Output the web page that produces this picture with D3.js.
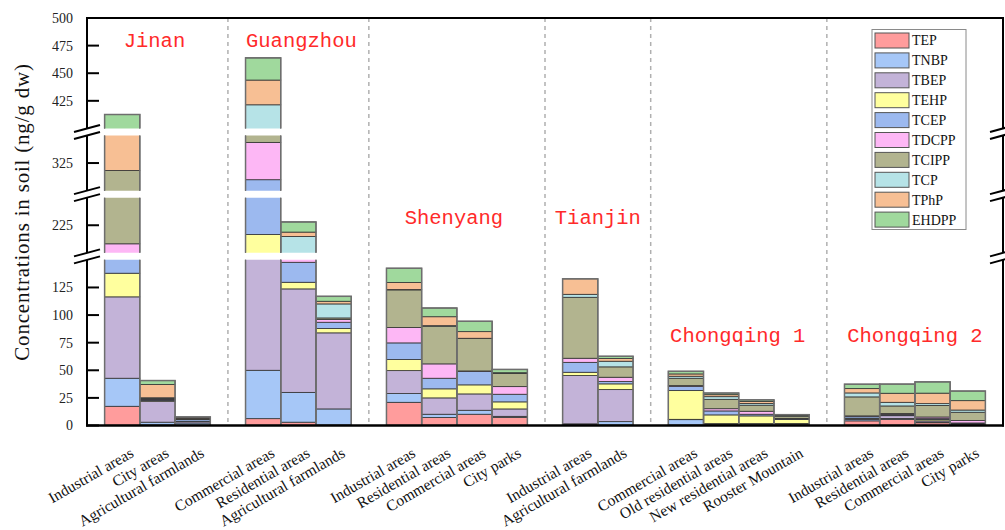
<!DOCTYPE html>
<html>
<head>
<meta charset="utf-8">
<script src="https://cdn.jsdelivr.net/npm/d3@7"></script>
<style>
  html, body { margin: 0; padding: 0; background: #fff; }
  svg { display: block; font-family: "Liberation Serif", "Times New Roman", serif; }
</style>
</head>
<body>
<svg id="chart" width="1005" height="530"></svg>
<script>
// ---- data -------------------------------------------------------------
const cities = ["Jinan", "Guangzhou", "Shenyang", "Tianjin", "Chongqing 1", "Chongqing 2"];
const sites = [
  ["Industrial areas", "City areas", "Agricultural farmlands"],
  ["Commercial areas", "Residential areas", "Agricultural farmlands"],
  ["Industrial areas", "Residential areas", "Commercial areas", "City parks"],
  ["Industrial areas", "Agricultural farmlands"],
  ["Commercial areas", "Old residential areas", "New residential areas", "Rooster Mountain"],
  ["Industrial areas", "Residential areas", "Commercial areas", "City parks"]
];
const compounds = ["TEP", "TNBP", "TBEP", "TEHP", "TCEP", "TDCPP", "TCIPP", "TCP", "TPhP", "EHDPP"];

// concentrations (ng/g dw), one entry per sampling site in the order above
const TEP   = [17.4, 0.4, 0.3, 6.2, 3.0, 0.4, 21.0, 7.2, 10.2, 7.4, 1.0, 0.4, 0.4, 0.4, 0.3, 0.3, 4.2, 5.6, 2.5, 0.5];
const TNBP  = [25.4, 2.6, 2.0, 43.8, 27.0, 14.6, 7.9, 3.0, 3.6, 0.9, 0.5, 3.1, 4.9, 0.8, 1.0, 0.9, 1.2, 0.8, 0.5, 0.4];
const TBEP  = [73.7, 19.0, 1.2, 140.0, 93.7, 68.9, 20.8, 14.8, 14.8, 6.7, 43.7, 29.0, 0.3, 0.5, 0.4, 0.6, 1.0, 2.5, 1.2, 0.8];
const TEHP  = [21.4, 0.6, 0.3, 26.6, 6.0, 3.9, 10.0, 8.2, 8.2, 6.4, 3.0, 5.2, 26.0, 7.9, 7.0, 3.6, 0.3, 0.3, 1.2, 0.3];
const TCEP  = [32.0, 1.0, 1.5, 93.3, 18.1, 5.7, 15.1, 9.6, 12.3, 6.9, 9.0, 2.1, 3.9, 3.6, 1.5, 0.8, 1.7, 0.8, 0.8, 0.3];
const TDCPP = [38.3, 0.4, 0.3, 33.8, 4.0, 2.4, 13.9, 13.0, 0.3, 6.9, 3.7, 3.9, 0.6, 2.0, 2.7, 0.3, 0.3, 0.8, 1.5, 2.2];
const TCIPP = [110.1, 0.8, 0.8, 26.3, 43.0, 1.5, 34.1, 34.1, 29.3, 11.8, 55.2, 9.4, 6.7, 8.5, 5.5, 2.0, 17.2, 6.9, 10.5, 7.5];
const TCP   = [0.0, 0.3, 0.2, 51.4, 20.0, 12.7, 0.3, 0.5, 0.3, 0.5, 2.7, 5.1, 1.8, 2.4, 1.5, 0.3, 3.6, 3.3, 1.6, 2.0];
const TPhP  = [60.0, 12.0, 1.0, 22.4, 4.0, 2.4, 6.4, 8.1, 6.0, 0.3, 14.0, 2.4, 2.1, 1.8, 1.8, 0.5, 3.9, 8.2, 9.5, 8.5];
const EHDPP = [34.3, 3.6, 0.1, 20.1, 9.2, 4.5, 12.9, 7.9, 9.4, 3.0, 0.0, 2.1, 2.4, 1.5, 1.5, 0.5, 4.0, 8.3, 10.2, 8.7];

// broken value axis: visible pieces and their tick labels
const ySegments = [[0, 150], [200, 250], [300, 350], [400, 500]];
const yTicks = [0, 25, 50, 75, 100, 125, 225, 325, 425, 450, 475, 500];

const colors = ["#FF9C9C", "#A6C7F7", "#C3B3D8", "#FFFF9E", "#9CB9EF",
                "#FDB7F5", "#B2B48F", "#B6E3E7", "#F7BF94", "#A0D99D"];

// ---- layout -----------------------------------------------------------
const svg = d3.select("#chart");
const plotLeft = 87, plotRight = 1003, plotTop = 18, plotBottom = 425.5, gapPx = 7;

const values = { TEP, TNBP, TBEP, TEHP, TCEP, TDCPP, TCIPP, TCP, TPhP, EHDPP };
const rows = [];
const slots = [];
let n = 0;
cities.forEach((c, ci) => {
  if (ci > 0) slots.push({ key: "gap" + ci, gap: true });
  sites[ci].forEach((s, si) => {
    const row = { key: `b${ci}-${si}`, city: ci, site: s };
    compounds.forEach(k => { row[k] = values[k][n]; });
    rows.push(row);
    slots.push({ key: row.key, gap: false });
    n++;
  });
});

const x = d3.scaleBand()
  .domain(slots.map(d => d.key))
  .range([plotLeft, plotRight])
  .paddingInner(0)
  .paddingOuter(0.5);

// one linear scale per visible piece of the value axis
const units = d3.sum(ySegments, s => s[1] - s[0]);
const pxPerUnit = (plotBottom - plotTop - gapPx * (ySegments.length - 1)) / units;
let cursor = plotBottom;
const yScales = ySegments.map(seg => {
  const y0 = cursor, y1 = cursor - (seg[1] - seg[0]) * pxPerUnit;
  cursor = y1 - gapPx;
  return d3.scaleLinear().domain(seg).range([y0, y1]);
});
const scaleFor = v => yScales.find(s => v >= s.domain()[0] && v <= s.domain()[1]);

const stacked = d3.stack().keys(compounds)(rows);
const totals = rows.map(r => d3.sum(compounds, c => r[c]));

// ---- bars, clipped to each axis piece --------------------------------
const defs = svg.append("defs");
yScales.forEach((s, i) => {
  defs.append("clipPath").attr("id", "seg" + i)
    .append("rect")
    .attr("x", plotLeft).attr("width", plotRight - plotLeft)
    .attr("y", s.range()[1]).attr("height", s.range()[0] - s.range()[1]);
});

yScales.forEach((s, i) => {
  const g = svg.append("g").attr("clip-path", `url(#seg${i})`);
  stacked.forEach((layer, li) => {
    g.append("g")
      .selectAll("rect")
      .data(layer)
      .join("rect")
      .attr("x", d => x(d.data.key))
      .attr("width", x.bandwidth())
      .attr("y", d => s(d[1]))
      .attr("height", d => Math.max(0, s(d[0]) - s(d[1])))
      .attr("fill", colors[li])
      .attr("stroke", "#333")
      .attr("stroke-width", 0.8);
  });
  g.append("g")
    .selectAll("rect")
    .data(rows)
    .join("rect")
    .attr("x", d => x(d.key))
    .attr("width", x.bandwidth())
    .attr("y", (d, j) => s(totals[j]))
    .attr("height", (d, j) => Math.max(0, s(0) - s(totals[j])))
    .attr("fill", "none")
    .attr("stroke", "#6e6e6e")
    .attr("stroke-width", 1.5);
});

// ---- dashed separators between cities --------------------------------
svg.append("g")
  .selectAll("line")
  .data(slots.filter(d => d.gap))
  .join("line")
  .attr("x1", d => x(d.key) + x.bandwidth() / 2)
  .attr("x2", d => x(d.key) + x.bandwidth() / 2)
  .attr("y1", plotTop).attr("y2", plotBottom)
  .attr("stroke", "#b0b0b0")
  .attr("stroke-width", 1.5)
  .attr("stroke-dasharray", "4,4");

// ---- frame and broken axes -------------------------------------------
const axisG = svg.append("g").attr("stroke", "#000").attr("fill", "none");
axisG.append("line").attr("x1", plotLeft - 1).attr("x2", plotRight + 1)
  .attr("y1", plotBottom).attr("y2", plotBottom).attr("stroke-width", 2.5);
axisG.append("line").attr("x1", plotLeft).attr("x2", plotRight)
  .attr("y1", plotTop).attr("y2", plotTop).attr("stroke-width", 2);

[plotLeft, plotRight].forEach(ax => {
  yScales.forEach((s, i) => {
    axisG.append("line").attr("x1", ax).attr("x2", ax)
      .attr("y1", s.range()[0] + (i === 0 ? 1 : 0))
      .attr("y2", s.range()[1] - (i === yScales.length - 1 ? 1 : 0))
      .attr("stroke-width", 2);
  });
  // slanted break marks at both edges of every gap
  yScales.slice(0, -1).forEach((s, i) => {
    const edges = [s.range()[1], yScales[i + 1].range()[0]];
    edges.forEach(ey => {
      axisG.append("line")
        .attr("x1", ax - 13).attr("y1", ey + 3.5)
        .attr("x2", ax + 13).attr("y2", ey - 3.5)
        .attr("stroke-width", 2);
    });
  });
});

// ticks (pointing inward) and labels on the left axis
const tickG = svg.append("g");
yTicks.forEach(t => {
  const s = scaleFor(t);
  const yy = s(t);
  tickG.append("line").attr("x1", plotLeft).attr("x2", plotLeft + 12)
    .attr("y1", yy).attr("y2", yy)
    .attr("stroke", "#000").attr("stroke-width", 2);
  tickG.append("text").attr("x", plotLeft - 14).attr("y", yy).attr("dy", "0.35em")
    .attr("text-anchor", "end").attr("font-size", 14).attr("fill", "#222")
    .text(t);
});

svg.append("text")
  .attr("transform", "translate(29,212) rotate(-90)")
  .attr("text-anchor", "middle")
  .attr("font-size", 21)
  .attr("letter-spacing", 0.8)
  .attr("fill", "#111")
  .text("Concentrations in soil (ng/g dw)");

// ---- category labels --------------------------------------------------
svg.append("g")
  .selectAll("text")
  .data(rows)
  .join("text")
  .attr("transform", d => `translate(${x(d.key) + x.bandwidth() / 2 + 12.5},456) rotate(-30)`)
  .attr("text-anchor", "end")
  .attr("font-size", 15.5)
  .attr("fill", "#111")
  .text(d => d.site);

// ---- city names -------------------------------------------------------
const cityLabelY = [47, 47, 224, 224, 342, 342];
const cityLabelDx = [-3, 3, -3, 0, -1, 0];
svg.append("g")
  .selectAll("text")
  .data(cities)
  .join("text")
  .attr("x", (c, i) => {
    const ks = rows.filter(r => r.city === i).map(r => r.key);
    const x0 = x(ks[0]), x1 = x(ks[ks.length - 1]) + x.bandwidth();
    return (x0 + x1) / 2 + cityLabelDx[i];
  })
  .attr("y", (c, i) => cityLabelY[i])
  .attr("text-anchor", "middle")
  .attr("font-family", "'Liberation Mono', 'DejaVu Sans Mono', monospace")
  .attr("font-size", 20.5)
  .attr("fill", "#ff2a2a")
  .text(c => c);

// ---- legend -----------------------------------------------------------
const lg = svg.append("g").attr("transform", "translate(872,29.5)");
lg.append("rect").attr("width", 94).attr("height", 200)
  .attr("fill", "#fff").attr("stroke", "#8a8a8a").attr("stroke-width", 1);
compounds.forEach((c, i) => {
  const yy = 3.5 + i * 19.9;
  lg.append("rect").attr("x", 3).attr("y", yy).attr("width", 34).attr("height", 15)
    .attr("fill", colors[i]).attr("stroke", "#555").attr("stroke-width", 1);
  lg.append("text").attr("x", 40).attr("y", yy + 7.5).attr("dy", "0.35em")
    .attr("font-size", 14).attr("fill", "#111").text(c);
});
</script>
</body>
</html>
